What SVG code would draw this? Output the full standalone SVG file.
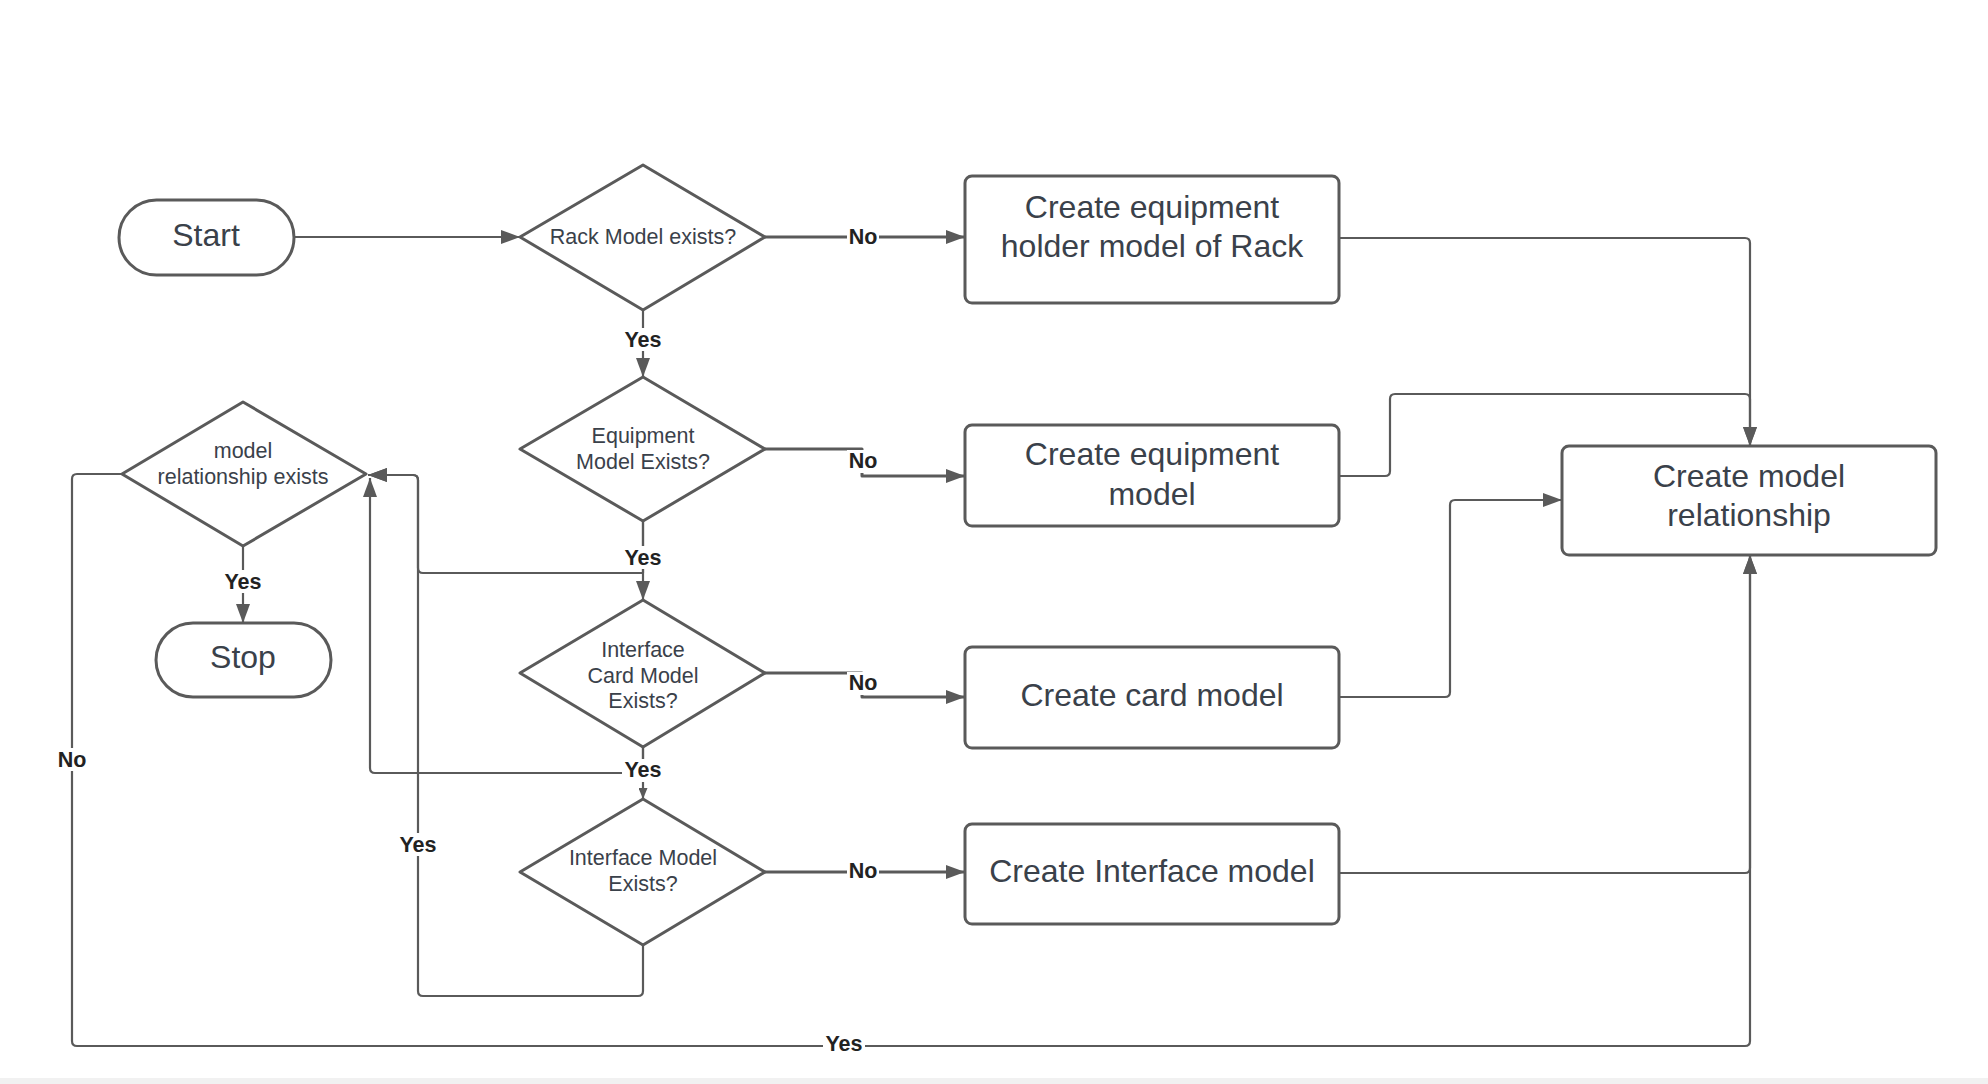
<svg xmlns="http://www.w3.org/2000/svg" width="1988" height="1084" viewBox="0 0 1988 1084">
<defs>
<style>
.shape{fill:#ffffff;stroke:#5a5a5a;stroke-width:3;stroke-linejoin:round}
.conn{fill:none;stroke:#5a5a5a;stroke-width:2.2;stroke-linejoin:round}
.thick{stroke-width:3}
.ntext{font-family:"Liberation Sans",Arial,sans-serif;fill:#3a414a;text-anchor:middle}
.big{font-size:32px}
.small{font-size:21.5px}
.lbl{font-family:"Liberation Sans",Arial,sans-serif;font-weight:bold;font-size:21.5px;fill:#222222;text-anchor:middle}
.lblbg{fill:#ffffff}
</style>
<marker id="arr" markerUnits="userSpaceOnUse" viewBox="0 0 19 14" refX="19" refY="7" markerWidth="19" markerHeight="14" orient="auto">
<path d="M0,0 L19,7 L0,14 z" fill="#5a5a5a"/>
</marker>
<marker id="arrs" markerUnits="userSpaceOnUse" viewBox="0 0 11 9" refX="11" refY="4.5" markerWidth="11" markerHeight="9" orient="auto">
<path d="M0,0 L11,4.5 L0,9 z" fill="#5a5a5a"/>
</marker>
</defs>
<rect x="0" y="0" width="1988" height="1084" fill="#ffffff"/>
<rect x="0" y="1078" width="1988" height="6" fill="#f1f1f1"/>

<g id="connectors">
<path class="conn" d="M294,237 H520" marker-end="url(#arr)"/>
<path class="conn thick" d="M765,237 H965" marker-end="url(#arr)"/>
<path class="conn" d="M643,311 V377" marker-end="url(#arr)"/>
<path class="conn thick" d="M765,449 H862 V476 H965" marker-end="url(#arr)"/>
<path class="conn" d="M643,521 V600" marker-end="url(#arr)"/>
<path class="conn" d="M643,521 V573 H423 Q418,573 418,568 V480 Q418,475 413,475 H368" marker-end="url(#arr)"/>
<path class="conn thick" d="M765,673 H862 V697 H965" marker-end="url(#arr)"/>
<path class="conn" d="M643,747 V799" marker-end="url(#arrs)"/>
<path class="conn" d="M643,747 V773 H375 Q370,773 370,768 V478" marker-end="url(#arr)"/>
<path class="conn thick" d="M765,872 H965" marker-end="url(#arr)"/>
<path class="conn" d="M643,945 V991 Q643,996 638,996 H423 Q418,996 418,991 V480 Q418,475 413,475 H368" marker-end="url(#arr)"/>
<path class="conn" d="M243,546 V623" marker-end="url(#arr)"/>
<path class="conn" d="M1339,238 H1745 Q1750,238 1750,243 V446" marker-end="url(#arr)"/>
<path class="conn" d="M1339,476 H1385 Q1390,476 1390,471 V399 Q1390,394 1395,394 H1745 Q1750,394 1750,399 V446" marker-end="url(#arr)"/>
<path class="conn" d="M1339,697 H1445 Q1450,697 1450,692 V505 Q1450,500 1455,500 H1562" marker-end="url(#arr)"/>
<path class="conn" d="M1339,873 H1745 Q1750,873 1750,868 V555" marker-end="url(#arr)"/>
<path class="conn" d="M122,474 H77 Q72,474 72,479 V1041 Q72,1046 77,1046 H1745 Q1750,1046 1750,1041 V555" marker-end="url(#arr)"/>
</g>

<g id="labels">
<rect class="lblbg" x="847" y="226" width="32" height="23"/><text class="lbl" x="863" y="244">No</text>
<rect class="lblbg" x="847" y="450" width="32" height="23"/><text class="lbl" x="863" y="468">No</text>
<rect class="lblbg" x="847" y="672" width="32" height="23"/><text class="lbl" x="863" y="690">No</text>
<rect class="lblbg" x="847" y="860" width="32" height="23"/><text class="lbl" x="863" y="878">No</text>
<rect class="lblbg" x="622" y="328" width="42" height="23"/><text class="lbl" x="643" y="347">Yes</text>
<rect class="lblbg" x="622" y="546" width="42" height="23"/><text class="lbl" x="643" y="565">Yes</text>
<rect class="lblbg" x="622" y="759" width="42" height="23"/><text class="lbl" x="643" y="777">Yes</text>
<rect class="lblbg" x="222" y="570" width="42" height="23"/><text class="lbl" x="243" y="589">Yes</text>
<rect class="lblbg" x="397" y="833" width="42" height="23"/><text class="lbl" x="418" y="852">Yes</text>
<rect class="lblbg" x="56" y="748" width="32" height="23"/><text class="lbl" x="72" y="767">No</text>
<rect class="lblbg" x="823" y="1033" width="42" height="23"/><text class="lbl" x="844" y="1051">Yes</text>
</g>

<g id="start">
<rect class="shape" x="119" y="200" width="175" height="75" rx="37.5"/>
<text class="ntext big" x="206" y="246">Start</text>
</g>
<g id="rack-model-exists">
<path class="shape" d="M643,165 L765,237 L643,310 L520,237 Z"/>
<text class="ntext small" x="643" y="244">Rack Model exists?</text>
</g>
<g id="equipment-model-exists">
<path class="shape" d="M643,377 L765,449 L643,521 L520,449 Z"/>
<text class="ntext small" x="643" y="443">Equipment</text>
<text class="ntext small" x="643" y="469">Model Exists?</text>
</g>
<g id="interface-card-model-exists">
<path class="shape" d="M643,600 L765,673 L643,747 L520,673 Z"/>
<text class="ntext small" x="643" y="657">Interface</text>
<text class="ntext small" x="643" y="683">Card Model</text>
<text class="ntext small" x="643" y="708">Exists?</text>
</g>
<g id="interface-model-exists">
<path class="shape" d="M643,799 L765,872 L643,945 L520,872 Z"/>
<text class="ntext small" x="643" y="865">Interface Model</text>
<text class="ntext small" x="643" y="891">Exists?</text>
</g>
<g id="model-relationship-exists">
<path class="shape" d="M243,402 L366,474 L243,546 L122,474 Z"/>
<text class="ntext small" x="243" y="458">model</text>
<text class="ntext small" x="243" y="484">relationship exists</text>
</g>
<g id="stop">
<rect class="shape" x="156" y="623" width="175" height="74" rx="37"/>
<text class="ntext big" x="243" y="668">Stop</text>
</g>
<g id="create-holder-model">
<rect class="shape" x="965" y="176" width="374" height="127" rx="7"/>
<text class="ntext big" x="1152" y="218">Create equipment</text>
<text class="ntext big" x="1152" y="257">holder model of Rack</text>
</g>
<g id="create-equipment-model">
<rect class="shape" x="965" y="425" width="374" height="101" rx="7"/>
<text class="ntext big" x="1152" y="465">Create equipment</text>
<text class="ntext big" x="1152" y="505">model</text>
</g>
<g id="create-card-model">
<rect class="shape" x="965" y="647" width="374" height="101" rx="7"/>
<text class="ntext big" x="1152" y="706">Create card model</text>
</g>
<g id="create-interface-model">
<rect class="shape" x="965" y="824" width="374" height="100" rx="7"/>
<text class="ntext big" x="1152" y="882">Create Interface model</text>
</g>
<g id="create-model-relationship">
<rect class="shape" x="1562" y="446" width="374" height="109" rx="7"/>
<text class="ntext big" x="1749" y="487">Create model</text>
<text class="ntext big" x="1749" y="526">relationship</text>
</g>
</svg>
